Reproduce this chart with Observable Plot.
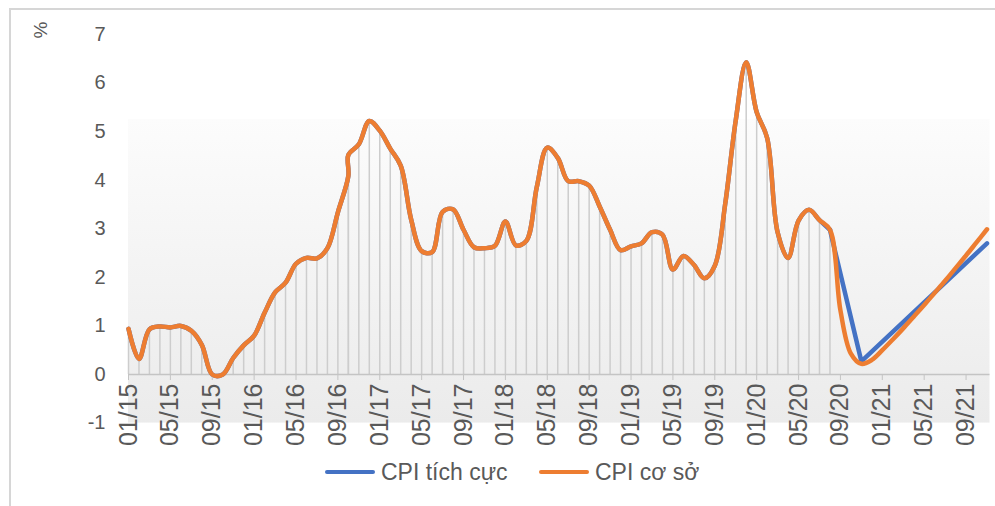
<!DOCTYPE html>
<html>
<head>
<meta charset="utf-8">
<script src="https://cdn.jsdelivr.net/npm/d3@7"></script>
<script src="https://cdn.jsdelivr.net/npm/@observablehq/plot@0.6"></script>
<style>
  html, body { margin: 0; padding: 0; background: #fff; }
  #wrap { position: relative; width: 995px; height: 506px; overflow: hidden; font-family: "Liberation Sans", Arial, sans-serif; }
  #frame { position: absolute; left: 9px; top: 8px; width: 1100px; height: 600px; border-left: 2px solid #d6d6d6; border-top: 2px solid #d6d6d6; }
  #chart { position: absolute; left: 0; top: 0; }
  #unit { position: absolute; left: 33px; top: 19px; font-size: 19px; color: #595959; transform: rotate(-90deg); transform-origin: center; }
  .lg { position: absolute; top: 459px; height: 26px; display: flex; align-items: center; font-size: 23px; color: #595959; }
  .sw { display: inline-block; width: 50px; height: 4px; margin-right: 6px; border-radius: 2px; }
</style>
</head>
<body>
<div id="wrap">
  <div id="frame"></div>
  <div id="chart"></div>
  <div id="unit">%</div>
  <div class="lg" style="left:325px"><span class="sw" style="background:#4472C4"></span>CPI tích cực</div>
  <div class="lg" style="left:539px"><span class="sw" style="background:#ED7D31"></span>CPI cơ sở</div>
</div>
<script>
// ---- Data (as drawn) ----
const histMonths = [
  "2015-01","2015-02","2015-03","2015-04","2015-05","2015-06","2015-07","2015-08","2015-09","2015-10","2015-11","2015-12",
  "2016-01","2016-02","2016-03","2016-04","2016-05","2016-06","2016-07","2016-08","2016-09","2016-10","2016-10","2016-11","2016-12",
  "2017-01","2017-02","2017-03","2017-04","2017-05","2017-06","2017-07","2017-08","2017-09","2017-10","2017-11","2017-12",
  "2018-01","2018-02","2018-03","2018-04","2018-05","2018-06","2018-07","2018-08","2018-09","2018-10","2018-11","2018-12",
  "2019-01","2019-02","2019-03","2019-04","2019-05","2019-06","2019-07","2019-08","2019-09","2019-10","2019-11","2019-12",
  "2020-01","2020-02","2020-03","2020-04","2020-05","2020-06","2020-07","2020-08"
];
const histValues = [
  0.94,0.32,0.93,0.99,0.97,1.00,0.90,0.61,0.00,0.00,0.34,0.60,
  0.80,1.27,1.69,1.89,2.28,2.40,2.39,2.60,3.34,4.09,4.52,4.74,5.22,
  5.02,4.65,4.30,3.19,2.54,2.52,3.35,3.40,2.98,2.62,2.60,2.65,
  3.15,2.66,2.75,3.86,4.67,4.46,3.98,3.98,3.89,3.46,2.98,2.56,
  2.64,2.70,2.93,2.88,2.16,2.44,2.26,1.98,2.24,3.52,5.23,6.43,
  5.40,4.87,2.93,2.40,3.17,3.39,3.18,2.98
];
// CPI tích cực forecast (blue)
const posMonths = ["2020-08","2020-11","2021-11"];
const posValues = [2.98, 0.27, 2.70];
// CPI cơ sở forecast (orange)
const baseMonths = ["2020-08","2020-09","2020-10","2020-11","2020-12","2021-01","2021-02","2021-03","2021-04","2021-05","2021-06","2021-07","2021-08","2021-09","2021-10","2021-11"];
const baseValues = [2.98,1.32,0.43,0.22,0.30,0.50,0.72,0.95,1.19,1.43,1.68,1.93,2.19,2.45,2.72,2.99];
// Axis labels
const xTickLabels = ["01/15","05/15","09/15","01/16","05/16","09/16","01/17","05/17","09/17","01/18","05/18","09/18","01/19","05/19","09/19","01/20","05/20","09/20","01/21","05/21","09/21"];
const yTicks = [-1,0,1,2,3,4,5,6,7];

// ---- helpers ----
const idxOf = s => { const [y, m] = s.split("-").map(Number); return (y - 2015) * 12 + (m - 1); };
const idxOfLabel = l => { const [m, y] = l.split("/").map(Number); return (2000 + y - 2015) * 12 + (m - 1); };

const hist = histMonths.map((m, k) => ({i: idxOf(m), v: histValues[k]}));
const pos = posMonths.map((m, k) => ({i: idxOf(m), v: posValues[k]}));
const base = baseMonths.map((m, k) => ({i: idxOf(m), v: baseValues[k]}));
const orangeAll = hist.concat(base.slice(1));
const tickIdx = xTickLabels.map(idxOfLabel);
const labelMap = new Map(xTickLabels.map(l => [idxOfLabel(l), l]));
const lastIdx = idxOf(baseMonths[baseMonths.length - 1]);

const W = 995, H = 455;
const BLUE = "#4472C4", ORANGE = "#ED7D31";

const defs = () => {
  const d = d3.create("svg:defs");
  const g = d.append("linearGradient").attr("id", "bg").attr("x1", 0).attr("y1", 0).attr("x2", 0).attr("y2", 1);
  g.append("stop").attr("offset", "0%").attr("stop-color", "#fcfcfc");
  g.append("stop").attr("offset", "100%").attr("stop-color", "#ebebeb");
  return d.node();
};

const chart = Plot.plot({
  width: W,
  height: H,
  marginLeft: 128,
  marginRight: 8.5,
  marginTop: 34,
  marginBottom: H - 374,
  style: {fontFamily: "'Liberation Sans', Arial, sans-serif", background: "transparent", overflow: "visible"},
  x: {type: "linear", domain: [0, lastIdx]},
  y: {domain: [0, 7]},
  marks: [
    defs,
    Plot.rect([0], {x1: 0, x2: lastIdx, y1: -1, y2: 5.25, fill: "url(#bg)", insetRight: -3}),
    Plot.ruleX(hist, {x: "i", y1: 0, y2: "v", stroke: "#cdcdcd", strokeWidth: 1.5}),
    Plot.ruleY([0], {stroke: "#c4c4c4", strokeWidth: 1.5, insetRight: -3}),
    Plot.axisX(tickIdx, {anchor: "bottom", tickSize: 6, tickRotate: -90, tickFormat: d => labelMap.get(d), fontSize: 25, stroke: "#c4c4c4", fill: "#595959", label: null}),
    Plot.axisY(yTicks, {anchor: "left", tickSize: 0, tickPadding: 23, fontSize: 20, fill: "#595959", tickFormat: d => String(d), label: null}),
    Plot.line(hist, {x: "i", y: "v", stroke: BLUE, strokeWidth: 4.5, curve: "catmull-rom"}),
    Plot.line(pos, {x: "i", y: "v", stroke: BLUE, strokeWidth: 4.5, curve: "linear"}),
    Plot.line(orangeAll, {x: "i", y: "v", stroke: ORANGE, strokeWidth: 4.5, curve: "catmull-rom"})
  ]
});
document.getElementById("chart").appendChild(chart);
</script>
</body>
</html>
